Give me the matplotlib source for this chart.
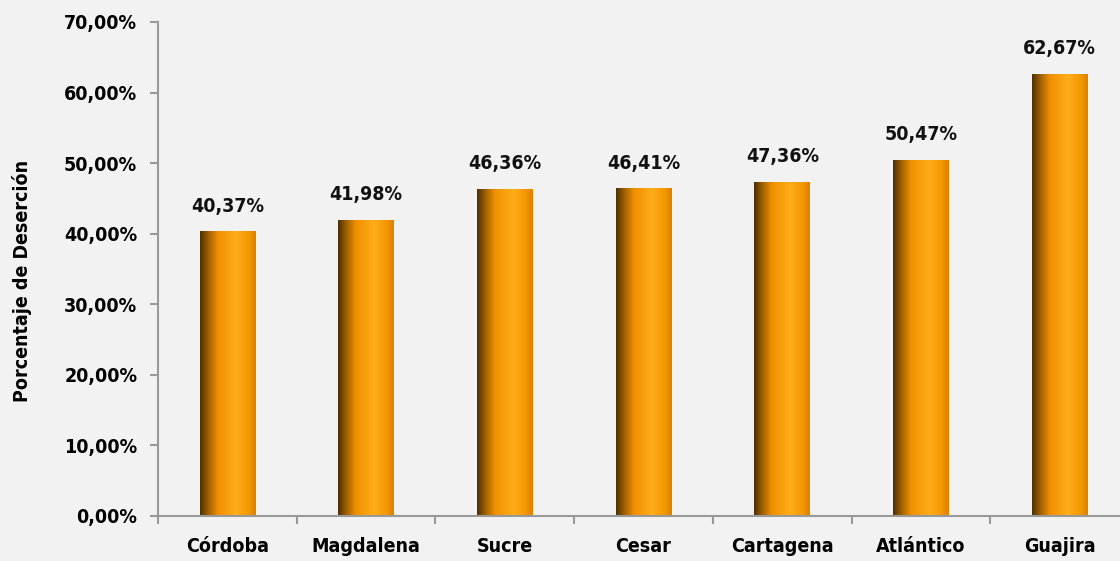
import matplotlib
matplotlib.use("Agg")
import matplotlib.pyplot as plt
import numpy as np
from matplotlib.colors import LinearSegmentedColormap
from matplotlib.patches import Rectangle

categories = ["Córdoba", "Magdalena", "Sucre", "Cesar", "Cartagena", "Atlántico", "Guajira"]
values = [40.37, 41.98, 46.36, 46.41, 47.36, 50.47, 62.67]
value_labels = ["40,37%", "41,98%", "46,36%", "46,41%", "47,36%", "50,47%", "62,67%"]
yticks = [0, 10, 20, 30, 40, 50, 60, 70]
ytick_labels = ["0,00%", "10,00%", "20,00%", "30,00%", "40,00%", "50,00%", "60,00%", "70,00%"]

plt.rcParams['font.family'] = ['DejaVu Sans']
plt.rcParams['font.stretch'] = 'condensed'
bg = "#f2f2f2"
axis_col = "#999999"
fig = plt.figure(figsize=(11.2, 5.61), dpi=100, facecolor=bg)
ax = fig.add_axes([158/1120, 1-516/561, (1129-158)/1120, (516-22)/561])
ax.set_facecolor(bg)

cmap = LinearSegmentedColormap.from_list("bar", [
    (0.0, "#4f3000"), (0.15, "#a06000"), (0.32, "#f09000"),
    (0.65, "#ffad1a"), (0.88, "#f49600"), (1.0, "#d98000")])
grad = np.linspace(0, 1, 256).reshape(1, -1)

x = np.arange(len(categories))
width = 0.4
bars = ax.bar(x, values, width=width, color="none", edgecolor="none", zorder=2)
for b in bars:
    x0, w, h = b.get_x(), b.get_width(), b.get_height()
    im = ax.imshow(grad, cmap=cmap, aspect="auto", extent=[x0, x0 + w, 0, h],
                   zorder=2, interpolation="bicubic")
    im.set_clip_path(Rectangle((x0, 0), w, h, transform=ax.transData))

fs = 14
for xi, v, lab in zip(x, values, value_labels):
    ax.text(xi, v + 2.2, lab, ha="center", va="bottom", fontsize=fs, fontweight="bold", color="#111111")

ax.set_xlim(-0.5, len(categories) - 0.5)
ax.set_ylim(0, 70)
ax.set_yticks(yticks)
ax.set_yticklabels(ytick_labels, fontsize=fs, fontweight="bold")
ax.set_xticks(x)
ax.set_xticklabels(categories, fontsize=fs, fontweight="bold")
ax.set_xticks(np.arange(len(categories)) - 0.5, minor=True)
ax.tick_params(axis="x", which="major", length=0, pad=15)
ax.tick_params(axis="x", which="minor", length=6, color=axis_col, width=1.5, direction="out")
ax.tick_params(axis="y", length=6, color=axis_col, width=1.5, direction="out", pad=9)

for s in ["top", "right"]:
    ax.spines[s].set_visible(False)
for s in ["left", "bottom"]:
    ax.spines[s].set_color(axis_col)
    ax.spines[s].set_linewidth(1.5)

fig.text(22/1120, 1-281/561, "Porcentaje de Deserción", rotation=90, ha="center", va="center",
         fontsize=fs, fontweight="bold")

fig.savefig("out.png", dpi=100, facecolor=bg)
